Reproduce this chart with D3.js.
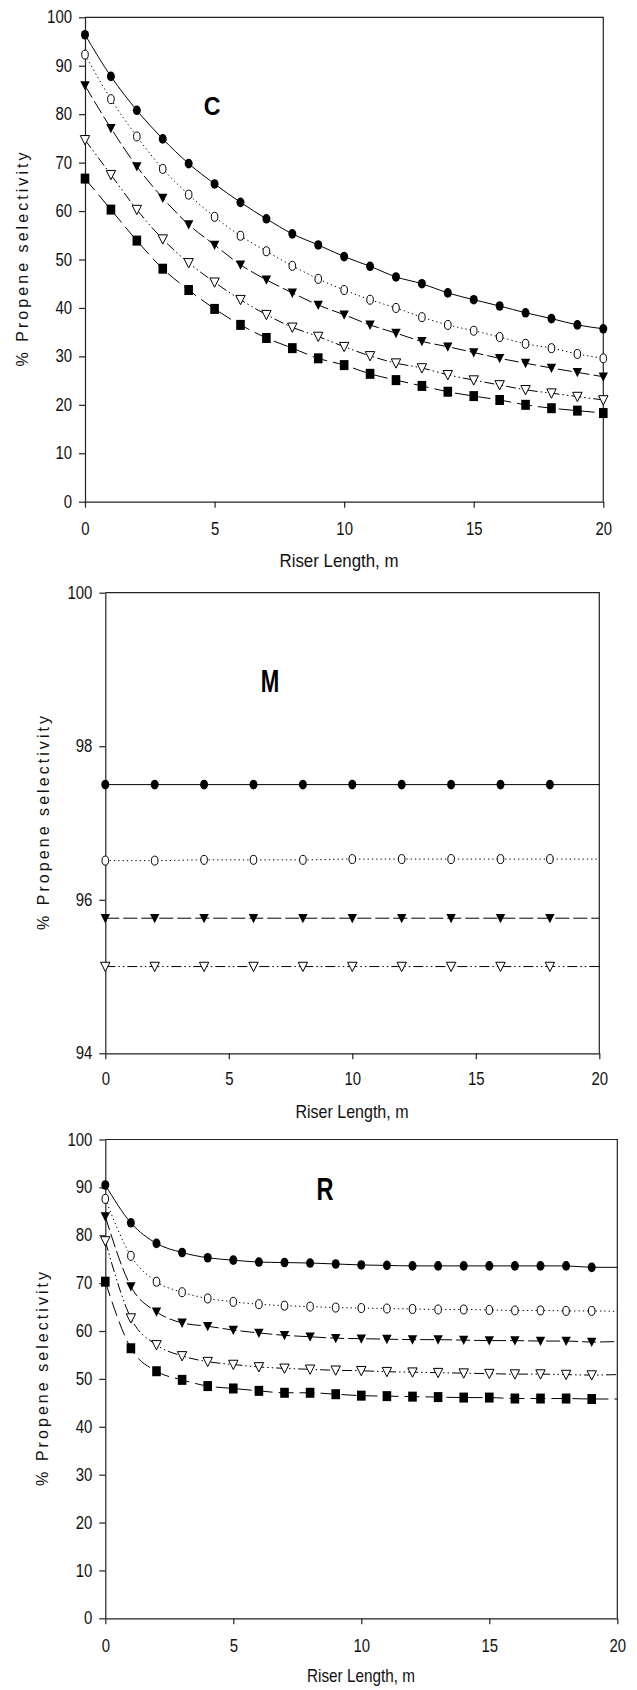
<!DOCTYPE html>
<html><head><meta charset="utf-8">
<script src="https://cdn.jsdelivr.net/npm/d3@7/dist/d3.min.js"></script>
<style>body{margin:0;background:#fff}svg{display:block}</style>
</head><body>
<svg id="chart" width="637" height="1690"></svg>
<script>
// ---------- DATA ----------
const xLabel = "Riser Length, m";
const yLabel = "% Propene selectivity";
const xTicks = [0, 5, 10, 15, 20];
const yTicks100 = [0, 10, 20, 30, 40, 50, 60, 70, 80, 90, 100];
const yTicksM = [94, 96, 98, 100];

// Panel C
const cX = [0,1,2,3,4,5,6,7,8,9,10,11,12,13,14,15,16,17,18,19,20];
const c1 = [96.4,87.8,80.8,74.9,69.8,65.6,61.8,58.4,55.3,53.0,50.6,48.6,46.4,45.0,43.1,41.7,40.4,39.0,37.8,36.5,35.7];
const c2 = [92.3,83.1,75.4,68.7,63.4,58.8,54.9,51.7,48.7,46.0,43.7,41.7,40.0,38.1,36.5,35.3,34.0,32.6,31.7,30.5,29.6];
const c3 = [85.9,77.1,69.2,62.7,57.2,53.0,48.9,45.8,43.1,40.6,38.6,36.5,34.8,33.1,32.0,30.8,29.6,28.6,27.6,26.7,25.8];
const c4 = [74.7,67.5,60.3,54.2,49.3,45.3,41.7,38.6,36.0,34.1,32.0,30.1,28.6,27.6,26.2,25.1,24.1,23.1,22.4,21.7,21.0];
const c5 = [66.7,60.3,53.9,48.1,43.7,39.8,36.5,33.8,31.7,29.6,28.2,26.4,25.1,23.9,22.7,21.8,21.0,20.0,19.3,18.8,18.3];

// Panel M
const mX = [0,2,4,6,8,10,12,14,16,18,20];
const m1 = [97.5,97.5,97.5,97.5,97.5,97.5,97.5,97.5,97.5,97.5,97.5];
const m2 = [96.51,96.51,96.52,96.52,96.52,96.53,96.53,96.53,96.53,96.53,96.53];
const m3 = [95.76,95.76,95.76,95.76,95.76,95.76,95.76,95.76,95.76,95.76,95.76];
const m4 = [95.13,95.13,95.13,95.13,95.13,95.13,95.13,95.13,95.13,95.13,95.13];

// Panel R
const rX = [0,1,2,3,4,5,6,7,8,9,10,11,12,13,14,15,16,17,18,19,20];
const r1 = [90.5,82.6,78.3,76.4,75.3,74.8,74.4,74.3,74.2,74.0,73.8,73.7,73.6,73.6,73.6,73.6,73.6,73.6,73.6,73.3,73.3];
const r2 = [87.6,75.7,70.3,68.1,66.8,66.1,65.6,65.3,65.1,64.9,64.8,64.7,64.6,64.5,64.5,64.4,64.3,64.3,64.2,64.2,64.1];
const r3 = [83.9,69.3,64.0,61.7,61.0,60.2,59.6,59.1,58.8,58.5,58.4,58.3,58.2,58.2,58.1,58.0,58.0,57.9,57.9,57.7,57.8];
const r4 = [78.8,62.7,57.1,54.8,53.6,53.0,52.5,52.2,52.0,51.8,51.7,51.5,51.4,51.3,51.2,51.1,51.0,51.0,50.9,50.8,50.9];
const r5 = [70.3,56.4,51.6,49.8,48.5,48.0,47.5,47.1,47.1,46.8,46.5,46.4,46.3,46.2,46.1,46.1,45.9,45.9,45.9,45.8,45.8];

// ---------- STYLES ----------
const styles = [
  {marker: "fcircle", dash: null},
  {marker: "ocircle", dash: "1.3,3"},
  {marker: "ftri",    dash: "14,4"},
  {marker: "otri",    dash: "10,3,1.5,3,1.5,3"},
  {marker: "fsquare", dash: "15,6"}
];
const tickFont = "'Liberation Sans Narrow','Arial Narrow','Liberation Sans',Arial,sans-serif";
const labelFont = "'Liberation Sans',Arial,sans-serif";

const svg = d3.select("#chart");

function panel(cfg) {
  const g = svg.append("g");
  const x = d3.scaleLinear().domain([0, 20]).range([cfg.left, cfg.right]);
  const y = d3.scaleLinear().domain(cfg.yDomain).range([cfg.bottom, cfg.top]);

  // frame (top & right)
  g.append("path")
    .attr("d", `M${x(0)},${y(cfg.yDomain[1])}H${x(20)}V${y(cfg.yDomain[0])}`)
    .attr("fill", "none").attr("stroke", "#222").attr("stroke-width", 1.2);

  const xa = g.append("g").attr("transform", `translate(0,${y(cfg.yDomain[0])})`)
    .call(d3.axisBottom(x).tickValues(xTicks).tickSize(6).tickSizeOuter(0).tickFormat(d3.format("d")));
  const ya = g.append("g").attr("transform", `translate(${x(0)},0)`)
    .call(d3.axisLeft(y).tickValues(cfg.yTicks).tickSize(6).tickSizeOuter(0).tickFormat(d3.format("d")));
  [xa, ya].forEach(a => {
    a.select(".domain").attr("stroke", "#222").attr("stroke-width", 1.2);
    a.selectAll(".tick line").attr("stroke", "#222").attr("stroke-width", 1.2);
    a.selectAll(".tick text").attr("font-family", tickFont).attr("font-size", 17.5).attr("fill", "#111")
      .attr("textLength", d => String(d).length * 8.3).attr("lengthAdjust", "spacingAndGlyphs");
  });
  xa.selectAll(".tick text").attr("y", 0).attr("dy", 0).attr("transform", `translate(0,${cfg.xTickBase - y(cfg.yDomain[0])})`);
  ya.selectAll(".tick text").attr("x", -13);

  // axis titles
  g.append("text").text(xLabel)
    .attr("x", cfg.xLabelX).attr("y", cfg.xLabelY)
    .attr("text-anchor", "middle").attr("font-family", tickFont).attr("font-size", 19)
    .attr("textLength", cfg.xLabelW).attr("lengthAdjust", "spacingAndGlyphs").attr("fill", "#111");
  g.append("text").text(yLabel)
    .attr("transform", `translate(${cfg.yLabelX},${(y(cfg.yDomain[0]) + y(cfg.yDomain[1])) / 2}) rotate(-90)`)
    .attr("text-anchor", "middle").attr("dominant-baseline", "central")
    .attr("font-family", labelFont).attr("font-size", 16)
    .attr("textLength", 214).attr("lengthAdjust", "spacing").attr("fill", "#111");

  // panel letter
  g.append("text").text(cfg.letter)
    .attr("x", cfg.letterX).attr("y", cfg.letterY)
    .attr("text-anchor", "middle").attr("font-family", tickFont).attr("font-weight", "bold")
    .attr("font-size", cfg.letterSize).attr("fill", "#000")
    .attr("textLength", cfg.letterW).attr("lengthAdjust", "spacingAndGlyphs");

  const line = d3.line().x(d => x(d[0])).y(d => y(d[1])).curve(d3.curveMonotoneX);

  cfg.series.forEach((vals, i) => {
    const st = styles[i];
    const pts = cfg.xs.map((xv, j) => [xv, vals[j]]);
    g.append("path").attr("d", line(pts)).attr("fill", "none")
      .attr("stroke", "#000").attr("stroke-width", 1)
      .attr("stroke-dasharray", st.dash);
    const mk = pts.slice(0, cfg.markerCount);
    const mg = g.append("g");
    mk.forEach(p => {
      const px = x(p[0]), py = y(p[1]);
      if (st.marker === "fcircle") {
        mg.append("ellipse").attr("cx", px).attr("cy", py).attr("rx", 4).attr("ry", 4.8).attr("fill", "#000");
      } else if (st.marker === "ocircle") {
        mg.append("ellipse").attr("cx", px).attr("cy", py).attr("rx", 3.3).attr("ry", 4.5)
          .attr("fill", "#fff").attr("stroke", "#000").attr("stroke-width", 1);
      } else if (st.marker === "ftri" || st.marker === "otri") {
        const d = `M${px - 4.7},${py - 4.3}L${px + 4.7},${py - 4.3}L${px},${py + 5}Z`;
        const t = mg.append("path").attr("d", d);
        if (st.marker === "ftri") t.attr("fill", "#000");
        else t.attr("fill", "#fff").attr("stroke", "#000").attr("stroke-width", 1);
      } else {
        mg.append("rect").attr("x", px - 4.3).attr("y", py - 5).attr("width", 8.6).attr("height", 10).attr("fill", "#000");
      }
    });
  });
}

panel({
  left: 85, right: 603.3, top: 17.3, bottom: 501.7, yDomain: [0, 100], yTicks: yTicks100,
  xTickBase: 535, xLabelX: 339, xLabelY: 567, xLabelW: 119, yLabelX: 22,
  letter: "C", letterX: 212, letterY: 115, letterSize: 26, letterW: 16.7,
  xs: cX, series: [c1, c2, c3, c4, c5], markerCount: 21
});
panel({
  left: 105.3, right: 599.3, top: 592.7, bottom: 1053.3, yDomain: [94, 100], yTicks: yTicksM,
  xTickBase: 1085, xLabelX: 352, xLabelY: 1118, xLabelW: 113, yLabelX: 43.5,
  letter: "M", letterX: 270, letterY: 692, letterSize: 32, letterW: 18.5,
  xs: mX, series: [m1, m2, m3, m4], markerCount: 10
});
panel({
  left: 105.3, right: 617.3, top: 1139.5, bottom: 1618.3, yDomain: [0, 100], yTicks: yTicks100,
  xTickBase: 1652, xLabelX: 361, xLabelY: 1682, xLabelW: 108, yLabelX: 42.5,
  letter: "R", letterX: 325, letterY: 1200, letterSize: 32, letterW: 17,
  xs: rX, series: [r1, r2, r3, r4, r5], markerCount: 20
});
</script>
</body></html>
